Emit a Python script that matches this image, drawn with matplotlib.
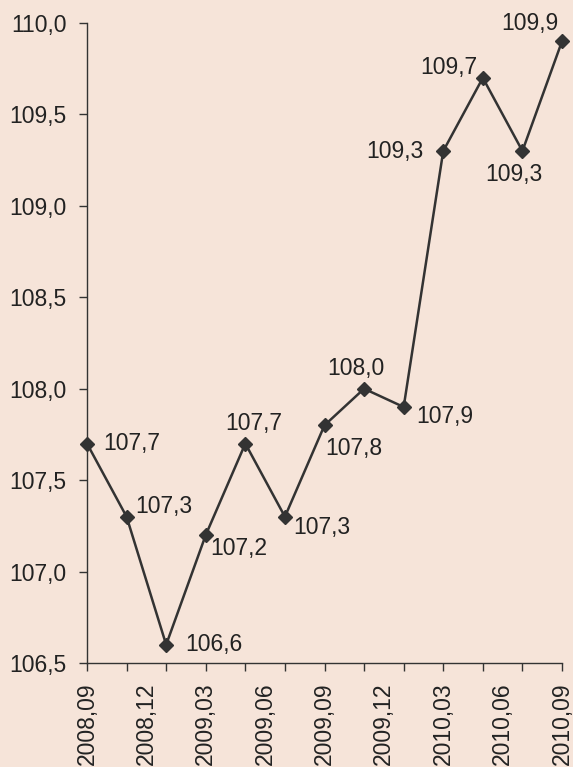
import matplotlib.pyplot as plt
from matplotlib.ticker import FixedLocator, NullFormatter

plt.rcParams['font.family'] = ['Liberation Sans', 'DejaVu Sans']

# Data: one point every two months
periods = ["2008,09", "2008,11", "2009,01", "2009,03", "2009,05", "2009,07", "2009,09",
           "2009,11", "2010,01", "2010,03", "2010,05", "2010,07", "2010,09"]
values = [107.7, 107.3, 106.6, 107.2, 107.7, 107.3, 107.8,
          108.0, 107.9, 109.3, 109.7, 109.3, 109.9]
tick_labels = ["2008,09", "2008,12", "2009,03", "2009,06", "2009,09",
               "2009,12", "2010,03", "2010,06", "2010,09"]


def month_index(s):
    y, m = s.split(",")
    return (int(y) - 2008) * 12 + int(m) - 9


x = [month_index(p) for p in periods]
x_lab = [month_index(t) for t in tick_labels]

# label offsets in pixels (dx, dy, ha, va)
offsets = [(16, 0, 'left', 'center'), (9, 10, 'left', 'center'), (19, 0, 'left', 'center'),
           (4, -14, 'left', 'center'), (8, 20, 'center', 'center'), (8, -11, 'left', 'center'),
           (1, -23, 'left', 'center'), (-8, 20, 'center', 'center'), (13, -9, 'left', 'center'),
           (-20, 0, 'right', 'center'), (-5, 10, 'right', 'center'), (-9, -23, 'center', 'center'),
           (-32, 18, 'center', 'center')]

bg = '#F6E4D9'
dark = '#333333'
fs = 16.5

fig = plt.figure(figsize=(5.73, 7.67), dpi=100)
fig.patch.set_facecolor(bg)
ax = fig.add_axes([87 / 573, 1 - 663 / 767, (562 - 87) / 573, (663 - 23) / 767])
ax.set_facecolor(bg)

ax.plot(x, values, color=dark, lw=1.8, marker='D', ms=7.2, mfc=dark, mec=dark,
        clip_on=False, zorder=3)

for xi, v, (dx, dy, ha, va) in zip(x, values, offsets):
    ax.annotate(f"{v:.1f}".replace(".", ","), (xi, v), xytext=(dx, dy),
                textcoords='offset pixels', ha=ha, va=va, fontsize=fs, color='#222222')

ax.set_xlim(0, 24)
ax.set_ylim(106.5, 110.0)
yt = [106.5 + 0.5 * i for i in range(8)]
ax.set_yticks(yt)
ax.set_yticklabels([f"{t:.1f}".replace(".", ",") for t in yt])

# marks at each point, labels every quarter
ax.xaxis.remove_overlapping_locs = False
ax.xaxis.set_major_locator(FixedLocator(x_lab))
ax.set_xticklabels(tick_labels, rotation=90)
ax.xaxis.set_minor_locator(FixedLocator(x))
ax.xaxis.set_minor_formatter(NullFormatter())
ax.tick_params(axis='x', which='major', length=0, pad=14, labelsize=fs, colors='#222222')
ax.tick_params(axis='x', which='minor', length=6, width=1, color=dark, direction='out')
ax.tick_params(axis='y', length=6, width=1, color=dark, pad=8.5, labelsize=fs,
               labelcolor='#222222')

for s in ['top', 'right']:
    ax.spines[s].set_visible(False)
for s in ['left', 'bottom']:
    ax.spines[s].set_color(dark)
    ax.spines[s].set_linewidth(1)

fig.savefig("out.png", dpi=100, facecolor=bg)
